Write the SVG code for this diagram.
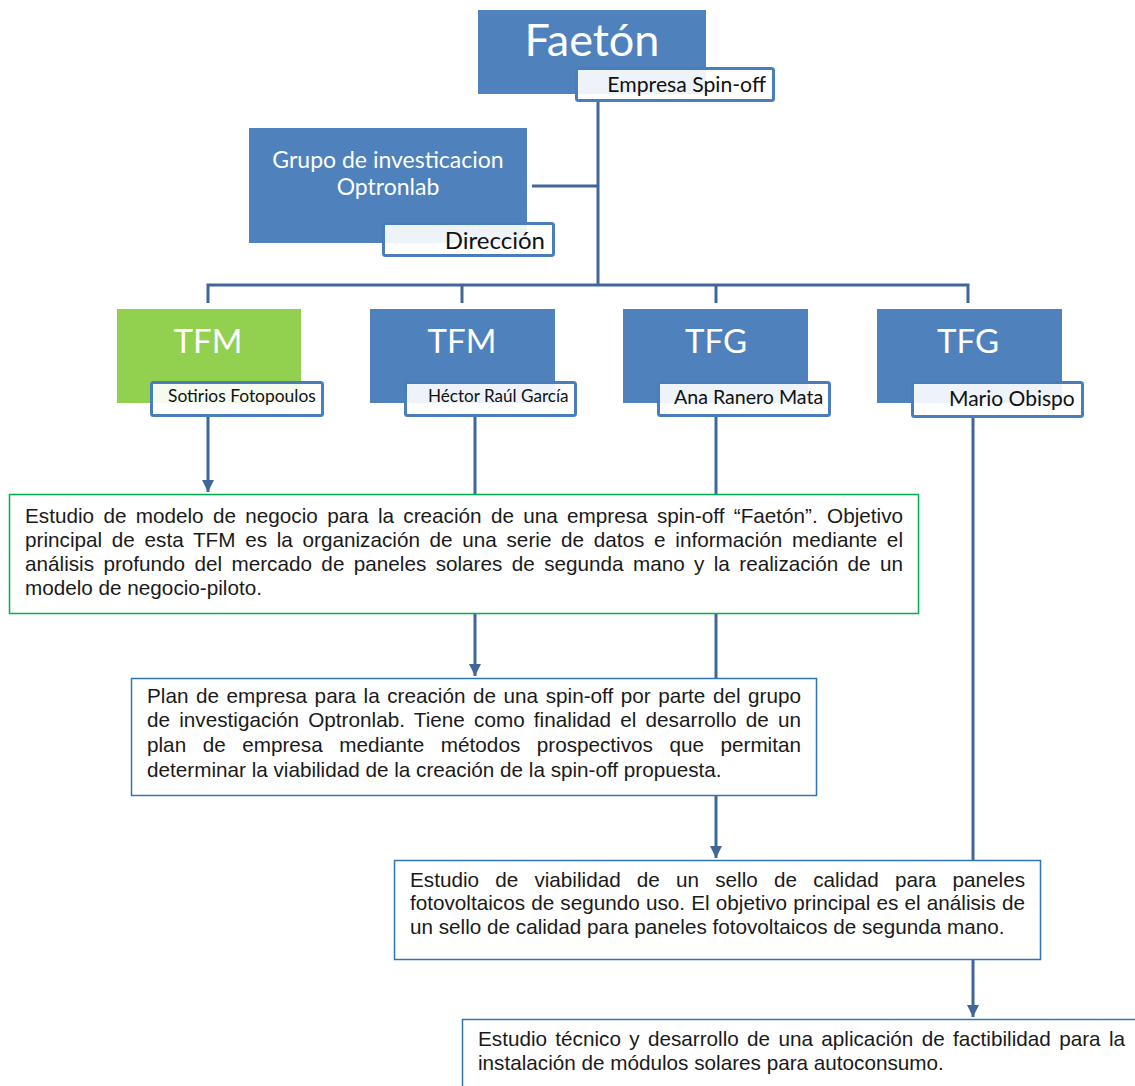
<svg xmlns="http://www.w3.org/2000/svg" width="1135" height="1086" viewBox="0 0 1135 1086">
<style>
.hdr{fill:#4f81bd}
.grn{fill:#92d050}
.lbl{fill:#ffffff;fill-opacity:0.9;stroke:#4a7ebb;stroke-width:3}
.ht{font-family:Lato,"Open Sans",sans-serif;fill:#ffffff}
.lt{font-family:Lato,"Open Sans",sans-serif;fill:#111111}
.conn{stroke:#41679a;stroke-width:3;fill:none}
.box{fill:#ffffff;stroke:#2e75b6;stroke-width:1.5}
.boxg{fill:#ffffff;stroke:#00b050;stroke-width:1.5}
.bt{font-family:"Liberation Sans",Arial,sans-serif;font-size:20.7px;fill:#1a1a1a}
</style>
<defs>
<marker id="arr" viewBox="0 0 10 10" refX="10" refY="5" markerWidth="4" markerHeight="4" orient="auto" markerUnits="strokeWidth">
<path d="M0,0 L10,5 L0,10 z" fill="#41679a"/>
</marker>
</defs>

<g id="connectors">
<path class="conn" d="M598,102 V285"/>
<path class="conn" d="M532,186 H598"/>
<path class="conn" d="M208,303 V285 H968 V303"/>
<path class="conn" d="M462,285 V303"/>
<path class="conn" d="M716,285 V303"/>
<path class="conn" d="M208,417 V492" marker-end="url(#arr)"/>
<path class="conn" d="M475,417 V494"/>
<path class="conn" d="M716,417 V494"/>
<path class="conn" d="M475,614 V676" marker-end="url(#arr)"/>
<path class="conn" d="M716,614 V858" marker-end="url(#arr)"/>
<path class="conn" d="M973,418 V860"/>
<path class="conn" d="M973,960 V1017" marker-end="url(#arr)"/>
</g>

<g id="faeton">
<rect class="hdr" x="478" y="10" width="228" height="84"/>
<text class="ht" x="592" y="56" font-size="45" text-anchor="middle">Faetón</text>
<rect class="lbl" x="576.5" y="68.5" width="197" height="32" rx="2"/>
<text class="lt" x="766" y="92" font-size="21.2" text-anchor="end">Empresa Spin-off</text>
</g>

<g id="grupo">
<rect class="hdr" x="249" y="128" width="278" height="115"/>
<text class="ht" x="388" y="168" font-size="23" text-anchor="middle">Grupo de investicacion</text>
<text class="ht" x="388" y="195" font-size="23" text-anchor="middle">Optronlab</text>
<rect class="lbl" x="383.5" y="223.5" width="170" height="32" rx="2"/>
<text class="lt" x="545" y="249" font-size="24" text-anchor="end">Dirección</text>
</g>

<g id="tfm1">
<rect class="grn" x="117" y="309" width="184" height="94"/>
<text class="ht" x="208" y="353" font-size="33" text-anchor="middle">TFM</text>
<rect class="lbl" x="151.5" y="382.5" width="171" height="33" rx="2"/>
<text class="lt" x="168" y="402" font-size="17.4">Sotirios Fotopoulos</text>
</g>

<g id="tfm2">
<rect class="hdr" x="370" y="309" width="185" height="94"/>
<text class="ht" x="462" y="353" font-size="33" text-anchor="middle">TFM</text>
<rect class="lbl" x="405.5" y="382.5" width="170" height="33" rx="2"/>
<text class="lt" x="428" y="402" font-size="17.1">Héctor Raúl García</text>
</g>

<g id="tfg1">
<rect class="hdr" x="623" y="309" width="185" height="94"/>
<text class="ht" x="716" y="353" font-size="33" text-anchor="middle">TFG</text>
<rect class="lbl" x="658.5" y="382.5" width="171" height="33" rx="2"/>
<text class="lt" x="674" y="404" font-size="19.6">Ana Ranero Mata</text>
</g>

<g id="tfg2">
<rect class="hdr" x="877" y="309" width="185" height="94"/>
<text class="ht" x="968" y="353" font-size="33" text-anchor="middle">TFG</text>
<rect class="lbl" x="912.5" y="382.5" width="170" height="34" rx="2"/>
<text class="lt" x="949" y="406" font-size="21">Mario Obispo</text>
</g>

<g id="desc1">
<rect class="boxg" x="9.5" y="494.5" width="909" height="119"/>
<text class="bt" x="25" y="523" word-spacing="3.55" textLength="878" lengthAdjust="spacing">Estudio de modelo de negocio para la creación de una empresa spin-off “Faetón”. Objetivo</text>
<text class="bt" x="25" y="547" word-spacing="3.92" textLength="878" lengthAdjust="spacing">principal de esta TFM es la organización de una serie de datos e información mediante el</text>
<text class="bt" x="25" y="571" word-spacing="3.62" textLength="878" lengthAdjust="spacing">análisis profundo del mercado de paneles solares de segunda mano y la realización de un</text>
<text class="bt" x="25" y="595">modelo de negocio-piloto.</text>
</g>

<g id="desc2">
<rect class="box" x="131.5" y="678.5" width="685" height="117"/>
<text class="bt" x="147" y="703" word-spacing="1.77" textLength="654" lengthAdjust="spacing">Plan de empresa para la creación de una spin-off por parte del grupo</text>
<text class="bt" x="147" y="727" word-spacing="3.38" textLength="654" lengthAdjust="spacing">de investigación Optronlab. Tiene como finalidad el desarrollo de un</text>
<text class="bt" x="147" y="752" word-spacing="10.76" textLength="654" lengthAdjust="spacing">plan de empresa mediante métodos prospectivos que permitan</text>
<text class="bt" x="147" y="777">determinar la viabilidad de la creación de la spin-off propuesta.</text>
</g>

<g id="desc3">
<rect class="box" x="394.5" y="860.5" width="646" height="99"/>
<text class="bt" x="410" y="887" word-spacing="10.42" textLength="615" lengthAdjust="spacing">Estudio de viabilidad de un sello de calidad para paneles</text>
<text class="bt" x="410" y="910" word-spacing="0.41" textLength="615" lengthAdjust="spacing">fotovoltaicos de segundo uso. El objetivo principal es el análisis de</text>
<text class="bt" x="410" y="934">un sello de calidad para paneles fotovoltaicos de segunda mano.</text>
</g>

<g id="desc4">
<rect class="box" x="462.5" y="1019.5" width="700" height="100"/>
<text class="bt" x="478" y="1046" word-spacing="2.57" textLength="647" lengthAdjust="spacing">Estudio técnico y desarrollo de una aplicación de factibilidad para la</text>
<text class="bt" x="478" y="1070">instalación de módulos solares para autoconsumo.</text>
</g>
</svg>
